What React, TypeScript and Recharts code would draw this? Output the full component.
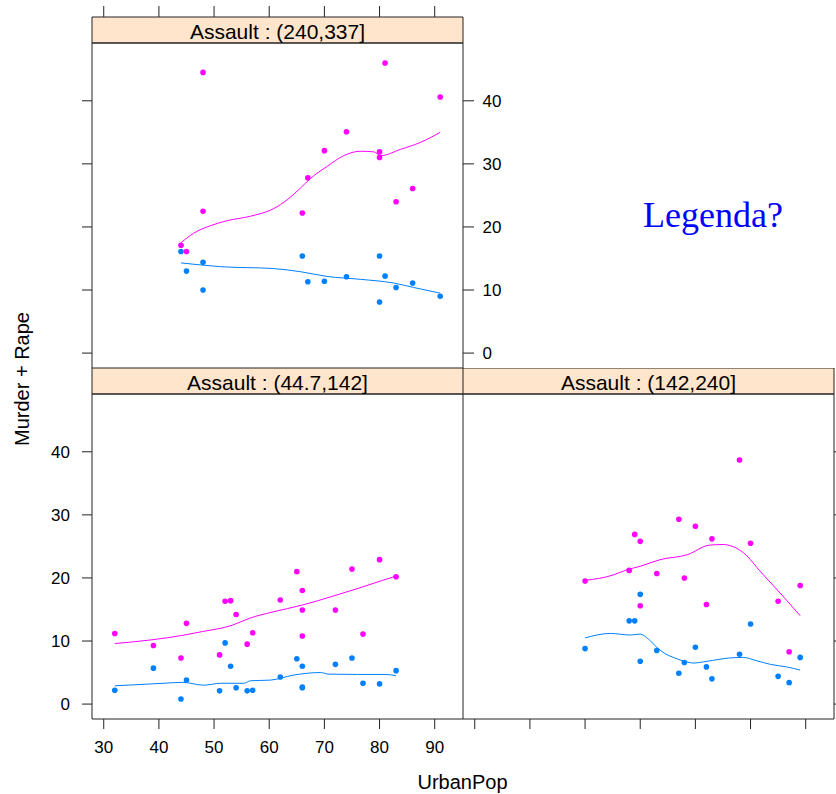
import React from 'react';
import { ComposedChart, Scatter, Line, XAxis, YAxis, ReferenceArea } from 'recharts';

const FONT = '"Liberation Sans", Arial, Helvetica, sans-serif';
const SERIF = '"Liberation Serif", "Times New Roman", serif';
const MURDER_COL = '#0080ff';
const RAPE_COL = '#ff00ff';
const LINE_COL = '#222222';
const STRIP_FILL = '#ffe5cc';

// Assault : (44.7,142]
const lowUrbanPop = [77, 83, 54, 65, 57, 66, 52, 51, 66, 53, 62, 56, 44, 75, 72, 45, 80, 32, 39, 66];
const lowMurder = [3.3, 5.3, 2.6, 7.2, 2.2, 6.0, 9.7, 2.1, 2.7, 6.0, 4.3, 2.1, 0.8, 7.3, 6.3, 3.8, 3.2, 2.2, 5.7, 2.6];
const lowRape = [11.1, 20.2, 14.2, 21.0, 11.3, 18.0, 16.3, 7.8, 14.9, 16.4, 16.5, 9.5, 7.3, 21.4, 14.9, 12.8, 22.9, 11.2, 9.3, 10.8];

// Assault : (142,240]
const midUrbanPop = [58, 50, 78, 72, 60, 85, 70, 89, 68, 67, 87, 59, 80, 63, 73, 60];
const midMurder = [13.2, 8.8, 7.9, 5.9, 17.4, 4.4, 9.0, 7.4, 6.6, 4.9, 3.4, 13.2, 12.7, 8.5, 4.0, 6.8];
const midRape = [21.2, 19.5, 38.7, 15.8, 25.8, 16.3, 28.2, 18.8, 20.0, 29.3, 8.3, 26.9, 25.5, 20.7, 26.2, 15.6];

// Assault : (240,337]
const highUrbanPop = [48, 80, 91, 80, 83, 66, 67, 74, 44, 81, 70, 86, 45, 48];
const highMurder = [10.0, 8.1, 9.0, 15.4, 10.4, 15.4, 11.3, 12.1, 16.1, 12.2, 11.4, 11.1, 13.0, 14.4];
const highRape = [44.5, 31.0, 40.6, 31.9, 24.0, 22.2, 27.8, 35.1, 17.1, 46.0, 32.1, 26.1, 16.1, 22.5];

// smoother curves
const lowMurderFitX = [32, 40.9, 44.3, 48.1, 51.2, 55.4, 56.6, 60.2, 64.4, 69.3, 70.8, 76, 81, 83];
const lowMurderFitY = [2.9, 3.3, 3.45, 3.0, 3.3, 3.3, 3.7, 3.8, 4.6, 5.0, 4.75, 4.7, 4.7, 4.5];
const lowRapeFitX = [32, 38.8, 44.3, 47.9, 53.3, 56.4, 60.6, 66, 71.5, 76.3, 80.5, 83];
const lowRapeFitY = [9.6, 10.2, 10.9, 11.5, 12.5, 13.6, 14.6, 15.7, 17.1, 18.4, 19.6, 20.3];

const midMurderFitX = [50, 54.6, 58.2, 60, 61.5, 63, 64.5, 66, 68, 69.7, 71.5, 73.3, 76, 78.7, 81, 83.6, 86.5, 89];
const midMurderFitY = [10.5, 11.2, 10.95, 11.1, 10.3, 9.0, 8.0, 7.4, 6.8, 6.5, 6.7, 6.95, 7.3, 7.4, 6.9, 6.3, 5.9, 5.4];
const midRapeFitX = [50, 55.2, 57.6, 60, 63.6, 68.6, 72.5, 75, 78.7, 82, 86.3, 89];
const midRapeFitY = [19.6, 20.5, 21.3, 21.85, 22.9, 23.7, 25.2, 25.3, 24.0, 20.8, 16.7, 14.0];

const highMurderFitX = [44, 51.2, 60.8, 65.7, 70.5, 76.5, 82.6, 86.2, 91];
const highMurderFitY = [14.3, 13.7, 13.4, 12.9, 12.15, 11.7, 11.1, 10.4, 9.5];
const highRapeFitX = [44, 46.3, 49.35, 52.4, 56.6, 60.8, 63.25, 65.7, 67.5, 70.5, 73.5, 76.5, 79, 80.2, 83.8, 87.4, 91];
const highRapeFitY = [17.5, 19.0, 20.2, 21.0, 21.7, 22.9, 24.3, 26.2, 27.7, 29.6, 31.3, 32.0, 31.9, 31.3, 32.3, 33.4, 35.0];

const xTicks = [30, 40, 50, 60, 70, 80, 90];
const yTicks = [0, 10, 20, 30, 40];

// lattice pads the data range by 7% on each side
const padRange = (vals: number[]): [number, number] => {
  const lo = Math.min(...vals);
  const hi = Math.max(...vals);
  return [lo - 0.07 * (hi - lo), hi + 0.07 * (hi - lo)];
};
const xLim = padRange([...lowUrbanPop, ...midUrbanPop, ...highUrbanPop]);
const yLim = padRange([...lowMurder, ...midMurder, ...highMurder, ...lowRape, ...midRape, ...highRape]);

const PLOT_W = 371;
const PLOT_H = 325;
const STRIP_H = 26;
// strip sits inside the chart's plot area, above the panel
const yTop = yLim[1] + (STRIP_H / PLOT_H) * (yLim[1] - yLim[0]);

type Side = 'none' | 'ticks' | 'labels';
type Sides = { top: Side; bottom: Side; left: Side; right: Side };

const SIZE: Record<keyof Sides, Record<Side, number>> = {
  top: { none: 0, ticks: 11, labels: 40 },
  bottom: { none: 0, ticks: 10, labels: 40 },
  left: { none: 0, ticks: 12, labels: 52 },
  right: { none: 0, ticks: 12, labels: 40 },
};

const toPoints = (xs: number[], ys: number[]) => xs.map((x, i) => ({ x, y: ys[i] }));

const dot = (color: string) => (props: any) => (
  <circle cx={props.cx} cy={props.cy} r={2.8} fill={color} />
);

// tick mark without a label
const noLabel = () => <g />;

interface PanelProps {
  title: string;
  left: number;
  top: number;
  sides: Sides;
  urbanPop: number[];
  murder: number[];
  rape: number[];
  murderFit: [number[], number[]];
  rapeFit: [number[], number[]];
}

function Panel({ title, left, top, sides, urbanPop, murder, rape, murderFit, rapeFit }: PanelProps) {
  const tw = SIZE.top[sides.top];
  const bh = SIZE.bottom[sides.bottom];
  const lw = SIZE.left[sides.left];
  const rw = SIZE.right[sides.right];
  const width = lw + PLOT_W + rw;
  const height = tw + STRIP_H + PLOT_H + bh;
  const xId = sides.top !== 'none' ? 'top' : 'bottom';
  const yId = sides.right !== 'none' ? 'right' : 'left';
  const tickStyle = { fill: '#000', fontSize: 17, fontFamily: FONT };

  const xSides = (['top', 'bottom'] as const).filter((s) => sides[s] !== 'none');
  const ySides = (['left', 'right'] as const).filter((s) => sides[s] !== 'none');

  return (
    <div style={{ position: 'absolute', left: left - lw, top: top - tw, width, height }}>
      <ComposedChart width={width} height={height} margin={{ top: 0, right: 0, bottom: 0, left: 0 }}>
        {xSides.map((s) => (
          <XAxis
            key={s}
            xAxisId={s}
            orientation={s}
            type="number"
            dataKey="x"
            domain={xLim}
            allowDataOverflow
            ticks={xTicks}
            interval={0}
            height={SIZE[s][sides[s]]}
            tickSize={s === 'top' ? 11 : 10}
            tickMargin={12}
            axisLine={false}
            stroke={LINE_COL}
            tickLine={{ stroke: LINE_COL }}
            tick={sides[s] === 'labels' ? tickStyle : noLabel}
          />
        ))}
        {ySides.map((s) => (
          <YAxis
            key={s}
            yAxisId={s}
            orientation={s}
            type="number"
            domain={[yLim[0], yTop]}
            allowDataOverflow
            ticks={yTicks}
            interval={0}
            width={SIZE[s][sides[s]]}
            tickSize={s === 'left' ? 10 : 11}
            tickMargin={s === 'left' ? 12 : 8.5}
            axisLine={false}
            stroke={LINE_COL}
            tickLine={{ stroke: LINE_COL }}
            tick={sides[s] === 'labels' ? tickStyle : noLabel}
          />
        ))}
        <ReferenceArea
          xAxisId={xId}
          yAxisId={yId}
          x1={xLim[0]}
          x2={xLim[1]}
          y1={yLim[1]}
          y2={yTop}
          fill={STRIP_FILL}
          fillOpacity={1}
          stroke={LINE_COL}
          strokeWidth={1}
          ifOverflow="visible"
          label={{ value: title, position: 'insideBottom', offset: 4, fill: '#000', fontSize: 21, fontFamily: FONT }}
        />
        <ReferenceArea
          xAxisId={xId}
          yAxisId={yId}
          x1={xLim[0]}
          x2={xLim[1]}
          y1={yLim[0]}
          y2={yLim[1]}
          fill="none"
          stroke={LINE_COL}
          strokeWidth={1}
          ifOverflow="visible"
        />
        <Scatter
          xAxisId={xId}
          yAxisId={yId}
          data={toPoints(urbanPop, murder)}
          dataKey="y"
          fill={MURDER_COL}
          shape={dot(MURDER_COL)}
          isAnimationActive={false}
        />
        <Scatter
          xAxisId={xId}
          yAxisId={yId}
          data={toPoints(urbanPop, rape)}
          dataKey="y"
          fill={RAPE_COL}
          shape={dot(RAPE_COL)}
          isAnimationActive={false}
        />
        <Line
          xAxisId={xId}
          yAxisId={yId}
          data={toPoints(murderFit[0], murderFit[1])}
          dataKey="y"
          type="monotone"
          stroke={MURDER_COL}
          strokeWidth={1}
          dot={false}
          activeDot={false}
          isAnimationActive={false}
        />
        <Line
          xAxisId={xId}
          yAxisId={yId}
          data={toPoints(rapeFit[0], rapeFit[1])}
          dataKey="y"
          type="monotone"
          stroke={RAPE_COL}
          strokeWidth={1}
          dot={false}
          activeDot={false}
          isAnimationActive={false}
        />
      </ComposedChart>
    </div>
  );
}

export default function App() {
  return (
    <div
      style={{
        position: 'absolute',
        left: 0,
        top: 0,
        width: 836,
        height: 794,
        overflow: 'hidden',
        background: '#fff',
      }}
    >
      <Panel
        title="Assault : (240,337]"
        left={91.5}
        top={16.5}
        sides={{ top: 'ticks', bottom: 'none', left: 'ticks', right: 'labels' }}
        urbanPop={highUrbanPop}
        murder={highMurder}
        rape={highRape}
        murderFit={[highMurderFitX, highMurderFitY]}
        rapeFit={[highRapeFitX, highRapeFitY]}
      />
      <Panel
        title="Assault : (44.7,142]"
        left={91.5}
        top={367.5}
        sides={{ top: 'none', bottom: 'labels', left: 'labels', right: 'none' }}
        urbanPop={lowUrbanPop}
        murder={lowMurder}
        rape={lowRape}
        murderFit={[lowMurderFitX, lowMurderFitY]}
        rapeFit={[lowRapeFitX, lowRapeFitY]}
      />
      <Panel
        title="Assault : (142,240]"
        left={462.5}
        top={367.5}
        sides={{ top: 'none', bottom: 'ticks', left: 'none', right: 'ticks' }}
        urbanPop={midUrbanPop}
        murder={midMurder}
        rape={midRape}
        murderFit={[midMurderFitX, midMurderFitY]}
        rapeFit={[midRapeFitX, midRapeFitY]}
      />
      <svg
        width={836}
        height={794}
        style={{ position: 'absolute', left: 0, top: 0, pointerEvents: 'none' }}
      >
        <text
          transform="translate(29,379) rotate(-90)"
          textAnchor="middle"
          fontSize={20}
          fontFamily={FONT}
          fill="#000"
        >
          Murder + Rape
        </text>
        <text x={462.5} y={789} textAnchor="middle" fontSize={20} fontFamily={FONT} fill="#000">
          UrbanPop
        </text>
        <text x={643} y={226.7} fontSize={36} fontFamily={SERIF} fill="#0000ff">
          Legenda?
        </text>
      </svg>
    </div>
  );
}
